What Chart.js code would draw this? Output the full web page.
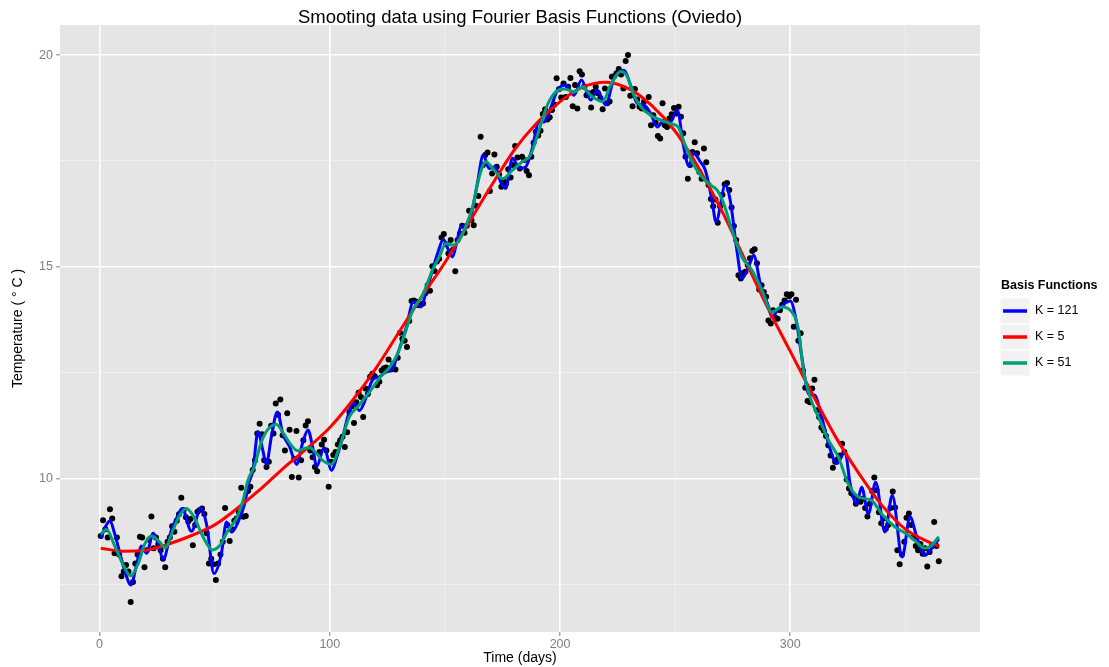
<!DOCTYPE html>
<html>
<head>
<meta charset="utf-8">
<script src="https://cdn.jsdelivr.net/npm/chart.js@4.4.1/dist/chart.umd.min.js"></script>
<style>
  html, body { margin: 0; padding: 0; background: #fff; }
  #wrap { width: 1109px; height: 667px; position: relative; }
</style>
</head>
<body>
<div id="wrap"><canvas id="chart"></canvas></div>
<script>
// Observed daily mean temperature, Oviedo (one value per day, day = index + 0.5)
const temps = [
  8.64, 9.01, 8.80, 8.60, 9.27, 9.05, 8.23, 8.60, 8.20, 7.69,
  7.80, 7.95, 7.80, 7.08, 7.55, 7.99, 8.20, 8.62, 8.60, 7.90,
  8.30, 8.55, 9.10, 8.35, 8.60, 8.45, 8.30, 8.10, 7.90, 8.50,
  8.60, 8.87, 8.74, 9.00, 9.15, 9.54, 9.25, 9.08, 8.98, 9.04,
  8.42, 8.90, 9.21, 9.25, 9.29, 9.16, 8.70, 7.99, 8.10, 7.97,
  7.60, 7.99, 8.20, 8.50, 9.30, 8.90, 8.52, 8.80, 9.00, 9.05,
  9.20, 9.78, 9.09, 9.11, 9.70, 9.80, 10.20, 10.43, 11.06, 11.29,
  11.04, 10.43, 10.27, 10.39, 11.24, 11.06, 11.77, 11.50, 11.86, 11.02,
  10.66, 11.54, 11.15, 10.03, 10.46, 11.12, 10.02, 10.43, 10.90, 11.25,
  11.35, 10.66, 10.50, 10.27, 10.17, 10.62, 10.80, 10.91, 10.66, 9.80,
  10.39, 10.55, 10.62, 10.80, 10.90, 10.98, 10.74, 11.09, 11.57, 11.70,
  11.31, 11.80, 12.02, 11.92, 11.45, 12.12, 11.99, 12.40, 12.47, 12.41,
  12.20, 12.28, 12.55, 12.60, 12.62, 12.81, 12.57, 12.70, 12.57, 12.85,
  13.44, 13.30, 13.25, 13.10, 13.72, 14.19, 14.20, 14.17, 14.09, 14.10,
  14.13, 14.37, 14.56, 14.43, 15.01, 14.90, 15.12, 15.19, 15.69, 15.77,
  15.53, 15.31, 15.63, 15.40, 14.89, 15.63, 15.78, 15.97, 15.80, 15.97,
  16.32, 16.10, 15.98, 16.44, 16.67, 18.07, 17.40, 17.64, 17.70, 16.79,
  17.20, 17.65, 17.36, 17.18, 16.89, 17.05, 16.97, 17.30, 17.11, 17.40,
  17.85, 17.58, 17.32, 17.60, 17.52, 17.26, 17.16, 17.60, 17.93, 18.19,
  18.10, 18.21, 18.61, 18.72, 18.48, 18.53, 18.70, 18.83, 19.45, 19.19,
  19.00, 19.33, 19.01, 19.25, 19.46, 18.79, 19.29, 18.74, 19.62, 19.54,
  19.25, 19.05, 19.10, 18.76, 19.13, 19.25, 19.10, 18.98, 18.72, 19.21,
  18.86, 18.90, 19.49, 19.50, 19.57, 19.67, 19.54, 19.21, 19.86, 20.00,
  19.04, 18.79, 19.20, 18.95, 18.78, 18.74, 18.90, 18.70, 19.01, 18.34,
  18.58, 18.40, 18.09, 18.03, 18.86, 18.34, 18.30, 18.50, 18.60, 18.75,
  18.62, 18.78, 18.54, 18.15, 17.60, 17.08, 17.40, 17.71, 17.94, 17.68,
  17.24, 17.08, 17.79, 17.47, 16.93, 16.60, 16.43, 16.59, 16.04, 16.42,
  16.70, 16.95, 16.98, 16.81, 16.40, 15.96, 15.63, 14.80, 14.72, 14.85,
  14.88, 15.04, 15.20, 15.37, 15.41, 15.08, 14.46, 14.56, 14.40, 14.29,
  13.73, 13.66, 13.97, 13.80, 13.77, 13.97, 14.10, 14.20, 14.35, 14.30,
  14.35, 13.58, 14.22, 13.25, 13.43, 12.55, 12.14, 11.83, 11.80, 12.12,
  12.33, 11.61, 11.45, 11.20, 11.13, 11.00, 10.78, 10.54, 10.25, 10.39,
  10.45, 10.54, 10.82, 10.62, 9.97, 9.76, 9.65, 9.60, 9.40, 9.52,
  9.45, 9.52, 9.30, 9.10, 9.40, 9.70, 10.02, 9.72, 9.20, 8.94,
  9.05, 8.81, 8.90, 9.30, 9.69, 9.31, 8.30, 7.97, 8.20, 8.50,
  9.07, 9.17, 8.90, 8.61, 8.40, 8.30, 8.45, 8.22, 8.35, 7.92,
  8.26, 8.40, 8.97, 8.40, 8.04
];
const days = temps.map((_, i) => i + 0.5);

// K = 5 fit
const k5Days = [0.5, 10, 20, 30, 40, 50, 60, 70, 80, 90, 100, 110, 120, 130, 140, 150, 160, 170, 180, 190,
  200, 210, 220, 230, 240, 250, 260, 270, 280, 290, 300, 310, 320, 330, 340, 350, 360, 364.5];
const k5Temp = [8.35, 8.28, 8.30, 8.45, 8.65, 8.90, 9.30, 9.75, 10.25, 10.70, 11.20, 11.85, 12.60, 13.45, 14.30, 15.10, 16.00, 16.90, 17.75, 18.40,
  18.90, 19.25, 19.36, 19.20, 18.80, 18.20, 17.35, 16.35, 15.20, 14.05, 13.00, 11.95, 10.95, 10.10, 9.35, 8.80, 8.50, 8.40];

// K = 51 fit
const k51Days = [0.5, 3, 6.6, 10.3, 13.4, 16.8, 19.7, 22.5, 26, 28.5, 31.9, 34.8, 37.7, 41.3, 44.9, 49, 52, 55.8, 59.4, 62.3,
  64.4, 67.3, 70.2, 73, 76.7, 80.3, 83, 86.1, 88.5, 91.2, 94, 97, 100.6, 104.2, 108.5, 112.1, 117.2, 121.5, 126.6, 129.5,
  133.1, 136, 140.3, 144.6, 147.5, 150.4, 153.3, 156.2, 159.1, 162, 164.9, 167.7, 171.4, 175, 179.3, 183.6, 187.2, 190.9, 194.5, 198.1,
  202, 206.1, 209.7, 213.3, 218.4, 222, 226.3, 229.2, 232.1, 235.7, 239.3, 243.7, 248, 251.6, 253, 257.3, 261.7, 265.3, 268.2, 271.1,
  274.7, 279, 283.3, 287.7, 292, 296.3, 300, 303.6, 305.7, 308.6, 312.2, 316.6, 320.9, 325.2, 329.6, 335.3, 339.7, 345.5, 350.5, 354.1,
  358.5, 361.4, 364.5];
const k51Temp = [8.68, 8.79, 8.40, 7.95, 7.70, 7.99, 8.46, 8.64, 8.50, 8.36, 8.78, 9.13, 9.29, 9.06, 8.62, 8.31, 8.40, 8.77, 9.05, 9.48,
  9.95, 10.30, 10.85, 11.15, 11.28, 11.02, 10.80, 10.65, 10.70, 10.72, 10.60, 10.42, 10.33, 10.74, 11.45, 11.69, 12.04, 12.36, 12.67, 12.95,
  13.50, 13.97, 14.33, 14.92, 15.23, 15.55, 15.51, 15.63, 15.96, 16.41, 17.12, 17.48, 17.28, 17.08, 17.28, 17.48, 17.64, 18.23, 18.82, 19.13,
  19.20, 19.13, 19.25, 19.05, 18.90, 19.29, 19.61, 19.49, 19.05, 18.74, 18.58, 18.46, 18.38, 18.28, 18.07, 17.48, 17.12, 16.93, 16.81, 16.49,
  15.86, 15.23, 14.92, 14.44, 13.93, 14.05, 13.97, 13.50, 12.55, 11.92, 11.45, 10.90, 10.50, 9.87, 9.56, 9.48, 9.16, 8.85, 8.69, 8.53,
  8.35, 8.42, 8.62];

// K = 121 fit
const k121Days = [0.5, 2.5, 4.5, 6.5, 8.5, 11, 13.6, 16, 18.2, 20.4, 23.3, 25.5, 27.6, 31.2, 33.8, 35.8, 39.9, 44, 46.5, 49.7,
  52.9, 55.1, 57.3, 60, 63.2, 64.7, 66.6, 68.8, 70.9, 72.4, 74.6, 77.2, 79.6, 82.5, 85.6, 88, 90.5, 92.5, 94.3, 97.5,
  100.8, 103, 105.6, 108, 110, 112.9, 115, 118.6, 121.5, 124.4, 127.3, 129.5, 133.1, 136.3, 139.6, 141.8, 144.6, 147, 149.3, 151.5,
  153.3, 155, 156.9, 159.1, 161.2, 164.1, 166.6, 169.2, 171.8, 174.2, 176.4, 179.3, 182.5, 185.1, 187.7, 190.9, 193, 196.4, 198.8, 202.5,
  206.1, 209.3, 213.3, 216.2, 219.8, 223.4, 227.8, 230.6, 233.5, 236.4, 239.5, 242.2, 245.1, 248, 250.9, 253.7, 255.9, 258, 260.9, 263.1,
  266, 267.7, 271.8, 273.9, 276.8, 279, 281.9, 284.1, 287, 290.6, 292, 294.9, 300, 302.8, 305, 307.9, 310.8, 312.9, 316.6, 320.2,
  323.8, 326, 328.8, 331, 333.9, 337.1, 341.1, 344.3, 348.6, 352, 355, 358.5, 361.5, 364.5];
const k121Temp = [8.58, 8.85, 9.00, 8.70, 8.30, 7.80, 7.48, 7.95, 8.40, 8.23, 8.70, 8.45, 8.08, 8.78, 9.10, 9.29, 8.75, 9.30, 8.90, 7.75,
  8.22, 8.97, 8.73, 8.95, 9.44, 9.87, 10.19, 11.10, 10.66, 10.33, 10.98, 11.57, 11.05, 10.75, 10.33, 10.80, 11.14, 10.75, 10.28, 10.72,
  10.19, 10.50, 10.98, 11.50, 11.80, 11.60, 11.80, 12.33, 12.40, 12.51, 12.59, 12.95, 13.54, 14.17, 14.05, 14.40, 14.92, 15.35, 15.64, 15.40,
  15.23, 15.55, 15.94, 15.98, 16.18, 16.97, 17.64, 17.32, 17.36, 17.00, 16.85, 17.56, 17.32, 17.36, 17.75, 18.42, 18.42, 18.82, 19.17, 19.29,
  19.05, 19.41, 18.94, 19.17, 18.82, 19.45, 19.64, 19.29, 18.86, 18.82, 18.60, 18.30, 18.46, 18.42, 18.70, 17.83, 17.38, 17.68, 17.48, 17.28,
  16.57, 16.06, 16.93, 16.57, 15.39, 14.72, 15.00, 15.27, 14.60, 14.05, 13.81, 14.01, 14.19, 13.66, 12.87, 12.00, 11.96, 11.61, 10.82, 10.35,
  10.62, 9.87, 9.40, 9.79, 9.16, 9.91, 8.73, 9.60, 8.14, 9.09, 8.60, 8.18, 8.35, 8.57];

const xTicks = [0, 50, 100, 150, 200, 250, 300, 350];
const yTicks = [7.5, 10, 12.5, 15, 17.5, 20];

const seriesNames = ['K = 121', 'K = 5', 'K = 51'];
const seriesColors = ['#0000FF', '#FF0000', '#009E73'];

const FONT = '"Liberation Sans", Arial, sans-serif';

function pairs(xs, ys) {
  return xs.map((x, i) => ({ x: x, y: ys[i] }));
}

// grey panel behind the plot
const panelBg = {
  id: 'panelBg',
  beforeDraw(chart) {
    const { ctx, chartArea: a } = chart;
    ctx.save();
    ctx.fillStyle = '#E5E5E5';
    ctx.fillRect(a.left, a.top, a.right - a.left, a.bottom - a.top);
    ctx.restore();
  }
};

// title and ggplot style legend
const decorations = {
  id: 'decorations',
  afterDraw(chart) {
    const ctx = chart.ctx;
    const a = chart.chartArea;
    ctx.save();
    ctx.fillStyle = '#000';
    ctx.font = '18.5px ' + FONT;
    ctx.textAlign = 'center';
    ctx.textBaseline = 'middle';
    ctx.fillText('Smooting data using Fourier Basis Functions (Oviedo)', (a.left + a.right) / 2, 18);

    ctx.textAlign = 'left';
    ctx.font = 'bold 12.5px ' + FONT;
    ctx.fillText('Basis Functions', 1001, 286);
    seriesNames.forEach((name, i) => {
      const top = 298 + i * 26;
      ctx.fillStyle = '#F2F2F2';
      ctx.fillRect(1000, top, 30, 26);
      ctx.strokeStyle = '#FFFFFF';
      ctx.lineWidth = 1;
      ctx.strokeRect(1000, top, 30, 26);
      ctx.strokeStyle = seriesColors[i];
      ctx.lineWidth = 3.5;
      ctx.beginPath();
      ctx.moveTo(1003, top + 13);
      ctx.lineTo(1027, top + 13);
      ctx.stroke();
      ctx.fillStyle = '#000';
      ctx.font = '12.5px ' + FONT;
      ctx.fillText(name, 1035, top + 13);
    });
    ctx.restore();
  }
};

const lineStyle = {
  type: 'line',
  showLine: true,
  fill: false,
  pointRadius: 0,
  borderWidth: 3,
  cubicInterpolationMode: 'monotone'
};

new Chart(document.getElementById('chart'), {
  type: 'scatter',
  plugins: [panelBg, decorations],
  data: {
    datasets: [
      { ...lineStyle, label: seriesNames[2], data: pairs(k51Days, k51Temp), borderColor: seriesColors[2], order: 0 },
      { ...lineStyle, label: seriesNames[1], data: pairs(k5Days, k5Temp), borderColor: seriesColors[1], order: 1 },
      { ...lineStyle, label: seriesNames[0], data: pairs(k121Days, k121Temp), borderColor: seriesColors[0], order: 2 },
      {
        label: 'data',
        data: pairs(days, temps),
        pointRadius: 3,
        pointBackgroundColor: '#000',
        pointBorderWidth: 0,
        order: 3
      }
    ]
  },
  options: {
    responsive: true,
    maintainAspectRatio: false,
    animation: false,
    layout: { padding: { top: 25, right: 129, left: 0, bottom: 0 } },
    plugins: {
      legend: { display: false },
      tooltip: { enabled: false },
      title: { display: false }
    },
    scales: {
      x: {
        type: 'linear',
        min: -17.2,
        max: 382.4,
        afterBuildTicks: (s) => { s.ticks = xTicks.map(v => ({ value: v })); },
        afterFit: (s) => { s.height = 35; },
        border: { display: false },
        grid: {
          color: (c) => (c.tick && c.tick.value % 100 === 0) ? '#FFFFFF' : '#F2F2F2',
          lineWidth: (c) => (c.tick && c.tick.value % 100 === 0) ? 1.6 : 0.8,
          tickColor: (c) => (c.tick && c.tick.value % 100 === 0) ? '#7F7F7F' : 'rgba(0,0,0,0)',
          tickLength: 4,
          tickWidth: 1
        },
        ticks: {
          autoSkip: false,
          maxRotation: 0,
          padding: 1,
          color: '#7F7F7F',
          font: { family: FONT, size: 12.5 },
          callback: (v) => (v % 100 === 0 ? String(v) : '')
        },
        title: {
          display: true,
          text: 'Time (days)',
          color: '#000',
          font: { family: FONT, size: 14 },
          padding: { top: 2, bottom: 0 }
        }
      },
      y: {
        type: 'linear',
        min: 6.37,
        max: 20.71,
        afterBuildTicks: (s) => { s.ticks = yTicks.map(v => ({ value: v })); },
        afterFit: (s) => { s.width = 60; },
        border: { display: false },
        grid: {
          color: (c) => (c.tick && c.tick.value % 5 === 0) ? '#FFFFFF' : '#F2F2F2',
          lineWidth: (c) => (c.tick && c.tick.value % 5 === 0) ? 1.6 : 0.8,
          tickColor: (c) => (c.tick && c.tick.value % 5 === 0) ? '#7F7F7F' : 'rgba(0,0,0,0)',
          tickLength: 4,
          tickWidth: 1
        },
        ticks: {
          autoSkip: false,
          padding: 3,
          color: '#7F7F7F',
          font: { family: FONT, size: 12.5 },
          callback: (v) => (v % 5 === 0 ? String(v) : '')
        },
        title: {
          display: true,
          text: 'Temperature ( \u00B0 C )',
          color: '#000',
          font: { family: FONT, size: 14 },
          padding: { top: 10, bottom: 0 }
        }
      }
    }
  }
});
</script>
</body>
</html>
